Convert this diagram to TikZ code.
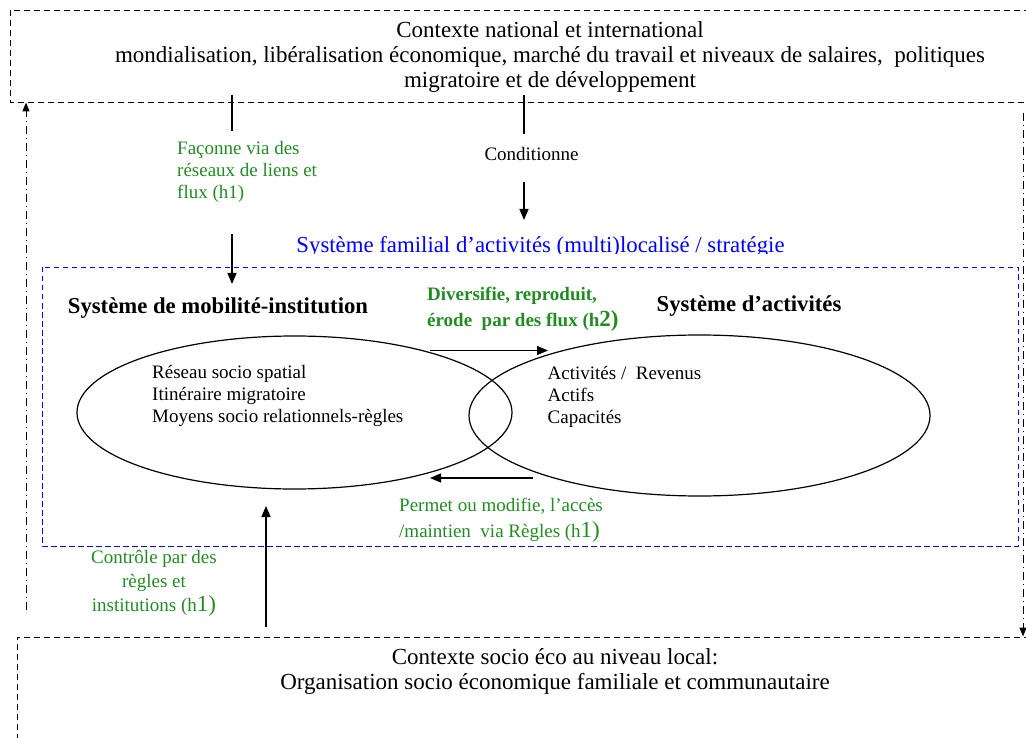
\documentclass[tikz,border=0pt]{standalone}
\usepackage{fontspec}
\setmainfont{Liberation Serif}
\usetikzlibrary{arrows.meta,shapes.geometric}

\definecolor{linkgreen}{rgb}{0.1333,0.5451,0.1333}
\definecolor{famblue}{rgb}{0.0,0.0,1.0}

\newcommand{\bigh}[1]{{\fontsize{23}{23}\selectfont #1}}

\begin{document}
\begin{tikzpicture}[x=1pt,y=-1pt,
  ctxline/.style={line width=0.9pt,dash pattern=on 6pt off 4pt},
  famline/.style={famblue,line width=0.9pt,dash pattern=on 5.5pt off 3.5pt},
  loopline/.style={line width=1pt,dash pattern=on 8pt off 4pt on 1pt off 4pt,-{Triangle[length=9pt,width=7pt]}},
  flow/.style={line width=1.4pt,-{Triangle[length=11pt,width=9pt]}},
  stub/.style={line width=1.4pt},
  sysell/.style={draw,ellipse,line width=1.2pt,inner sep=0pt,outer sep=0pt},
  ctxtext/.style={font=\fontsize{23}{25}\selectfont,align=center,inner sep=0pt},
  itemtext/.style={font=\fontsize{19}{22}\selectfont,align=left,inner sep=0pt,anchor=west},
  linktext/.style={text=linkgreen,font=\fontsize{19}{22}\selectfont,inner sep=0pt},
  systitle/.style={font=\fontsize{22.7}{26}\selectfont\bfseries,inner sep=0pt}
]
\useasboundingbox (0,0) rectangle (1026,738);
\clip (0,0) rectangle (1026,738);

% contexts
\draw[ctxline] (1030,10) -- (10,10) -- (10,102) -- (1030,102);
\draw[ctxline] (1030,637) -- (17,637) -- (17,760);
\node[ctxtext] (ctxglobal) at (550,57) {Contexte national et international\\
  mondialisation, libéralisation économique, marché du travail et niveaux de salaires,\ \ politiques\\
  migratoire et de développement};
\node[ctxtext] (ctxlocal) at (555,671.5) {Contexte socio éco au niveau local:\\
  Organisation socio économique familiale et communautaire};

% family system
\begin{scope}
\clip (0,0) rectangle (1026,253.5);
\node[inner sep=0pt,anchor=base,text=famblue,font=\fontsize{22.8}{26}\selectfont] (famtitle) at (540.5,252.5)
  {Système familial d’activités (multi)localisé / stratégie};
\end{scope}
\draw[famline] (42,267) rectangle (1018,546);

\node[systitle] (mobtitle) at (218,308) {Système de mobilité-institution};
\node[systitle] (acttitle) at (749,306) {Système d’activités};

\node[sysell,minimum width=435pt,minimum height=153pt] (mobell) at (294.5,412.5) {};
\node[sysell,minimum width=461pt,minimum height=161pt] (actell) at (699.5,415.5) {};

\node[itemtext] (mobitems) at (152,396) {Réseau socio spatial\\Itinéraire migratoire\\Moyens socio relationnels-règles};
\node[itemtext] (actitems) at (547.5,397) {Activités /\ \ Revenus\\Actifs\\Capacités};

% links
\node[linktext,align=left,anchor=west] (faconne) at (177,171.5) {Façonne via des\\réseaux de liens et\\flux (h1)};
\node[inner sep=0pt,font=\fontsize{19}{22}\selectfont] (condit) at (531.5,154) {Conditionne};
\node[linktext,align=left,anchor=west,font=\fontsize{19}{26}\selectfont\bfseries] (diversifie) at (427,309)
  {Diversifie, reproduit,\\érode\ \ par des flux (h\bigh{2)}};
\node[linktext,align=left,anchor=west,font=\fontsize{19}{26}\selectfont] (permet) at (399,520)
  {Permet ou modifie, l’accès\\/maintien\ \ via Règles (h\bigh{1)}};
\node[linktext,align=center,font=\fontsize{19}{24}\selectfont] (controle) at (154,583)
  {Contrôle par des\\règles et\\institutions (h\bigh{1)}};

\coordinate (faconnetop) at (232,95);
\coordinate (faconnefoot) at (232,234);
\coordinate (condittop) at (524,95);
\coordinate (conditfoot) at (524,182);
\coordinate (h2tail) at (430,350.5);
\coordinate (h2head) at (548,350.5);
\coordinate (acctail) at (533,478);
\coordinate (acchead) at (430,478);
\coordinate (ctrltail) at (266,627);
\coordinate (loopleft) at (26,610);
\coordinate (loopright) at (1023,113);

\draw[stub] (faconnetop) -- ++(0,36);
\draw[flow] (faconnefoot) -- ++(0,50);
\draw[stub] (condittop) -- ++(0,39);
\draw[flow] (conditfoot) -- ++(0,38);
\draw[flow] (h2tail) -- (h2head);
\draw[flow] (acctail) -- (acchead);
\draw[flow] (ctrltail) -- ++(0,-121);
\draw[loopline] (loopleft) -- ++(0,-507.5);
\draw[loopline] (loopright) -- ++(0,523.5);
\end{tikzpicture}
\end{document}
